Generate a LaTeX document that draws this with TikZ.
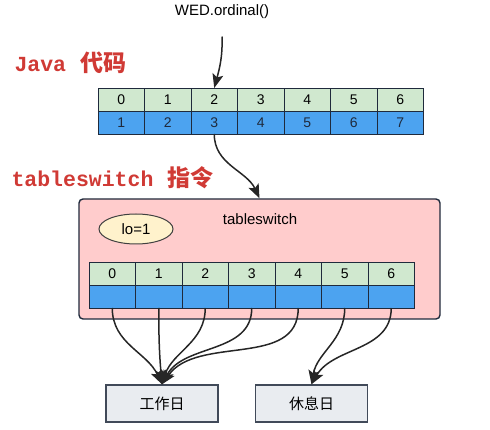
\documentclass[tikz,border=0pt]{standalone}
\usepackage{fontspec}
\setmainfont{Liberation Sans}
\newfontfamily\cjk{Noto Sans CJK SC}
\newfontfamily\codefont{Liberation Mono}
\usetikzlibrary{positioning, shapes.geometric, arrows.meta}

\definecolor{cellgreen}{HTML}{D0E8CF}
\definecolor{cellblue}{HTML}{4CA3F0}
\definecolor{boxpink}{HTML}{FFCCCC}
\definecolor{loyellow}{HTML}{FFF2CC}
\definecolor{daygray}{HTML}{E9ECF0}
\definecolor{edge}{HTML}{1F2A3C}
\definecolor{labred}{HTML}{D03A35}

\tikzset{
  cell/.style={draw=edge, line width=0.8pt, minimum width=46.5pt, minimum height=23pt,
    inner sep=0pt, outer sep=0pt, font=\fontsize{14}{14}\selectfont},
  cellg/.style={cell, fill=cellgreen},
  cellb/.style={cell, fill=cellblue, text=edge},
  redlabel/.style={text=labred, anchor=west, font=\fontsize{21.5}{22}\selectfont\bfseries},
  daybox/.style={draw=edge!85, fill=daygray, line width=1.4pt, minimum width=112pt,
    minimum height=37pt, font=\cjk\fontsize{15}{15}\selectfont},
  link/.style={->, line width=1.5pt, draw=black!85},
}

\begin{document}
\begin{tikzpicture}[x=1pt, y=-1pt, >={Stealth[length=14pt,width=11pt,inset=3pt]}]

\useasboundingbox (0,0) rectangle (490,430);

% labels
\node[font=\fontsize{15}{15}\selectfont] (wed) at (222,12) {WED.ordinal()};
\node[redlabel] (javalab) at (11,63) {{\codefont Java}\hspace{14pt}{\cjk\fontsize{23}{23}\selectfont 代码}};
\node[redlabel] (tslab) at (8,178) {{\codefont tableswitch}\hspace{14pt}{\cjk\fontsize{23}{23}\selectfont 指令}};

% Java table
\foreach \i [evaluate=\i as \j using int(\i+1)] in {0,...,6} {
  \node[cellg] (t\i) at ({121.25+46.5*\i},99.5) {\i};
  \node[cellb, below=0pt of t\i] (v\i) {\j};
}

% tableswitch box
\node[draw=edge, fill=boxpink, rounded corners=4pt, line width=1.4pt,
  minimum width=361pt, minimum height=120pt] (ts) at (259.5,259) {};
\node[font=\fontsize{15}{15}\selectfont] (tsname) at (260,219) {tableswitch};
\node[ellipse, draw=black!75, fill=loyellow, line width=1pt, minimum width=74pt,
  minimum height=30pt, inner sep=0pt, font=\fontsize{15}{15}\selectfont] (lo) at (136,229) {lo=1};

\foreach \i in {0,...,6} {
  \node[cellg] (s\i) at ({112.25+46.5*\i},273.5) {\i};
  \node[cellb, below=0pt of s\i] (b\i) {};
}

% targets
\node[daybox] (work) at (162,403.5) {工作日};
\node[daybox] (rest) at (311.5,403.5) {休息日};

% arrows
\draw[link] ([yshift=-14pt]wed.south) to[out=-88, in=75] (t2.north);
\draw[link] (v2.south) to[out=-90, in=115] (ts.north);

\draw[link] (b0.south) to[out=-90, in=115] (work.north);
\draw[link] (b1.south) to[out=-90, in=95] (work.north);
\draw[link] (b2.south) to[out=-90, in=72] (work.north);
\draw[link] (b3.south) to[out=-90, in=62] (work.north);
\draw[link] (b4.south) to[out=-90, in=55] (work.north);
\draw[link] (b5.south) to[out=-90, in=80] (rest.north);
\draw[link] (b6.south) to[out=-90, in=60] (rest.north);

\end{tikzpicture}
\end{document}
